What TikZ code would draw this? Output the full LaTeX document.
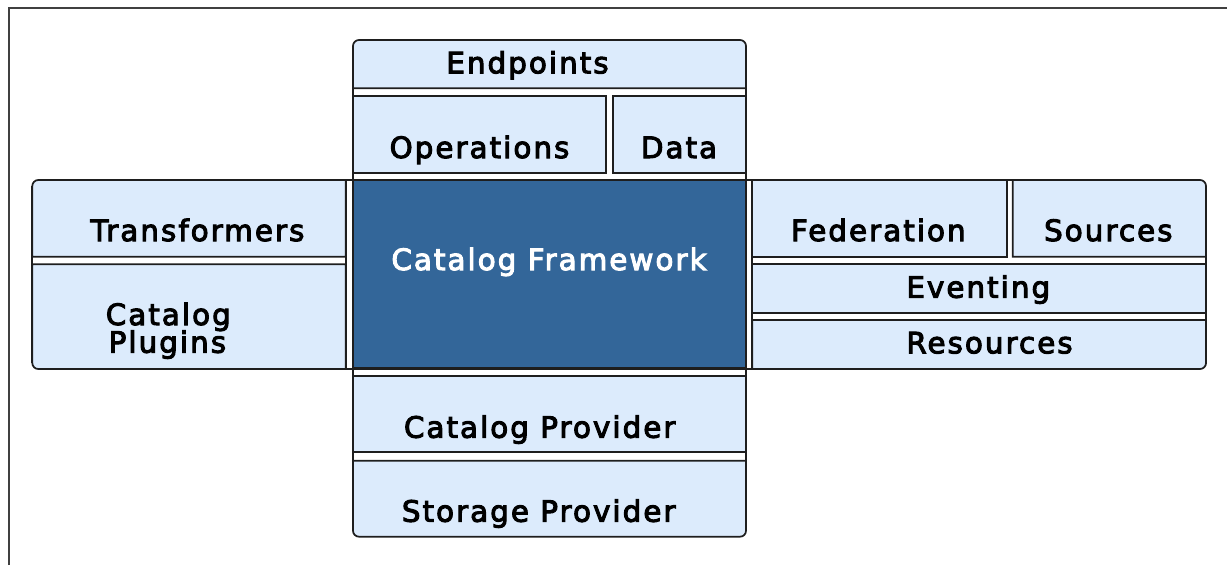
\documentclass[tikz,border=0pt]{standalone}
\usepackage{fontspec}
\setmainfont{DejaVu Sans}
\newfontfamily\labfont[LetterSpace=7,FakeBold=3.5]{DejaVu Sans}
\definecolor{cellfill}{RGB}{220,235,252}
\definecolor{corefill}{RGB}{51,102,153}
\definecolor{edgecol}{RGB}{30,30,30}
\definecolor{framecol}{RGB}{64,64,64}
\begin{document}
\begin{tikzpicture}[x=0.75pt,y=-0.75pt,
  cell/.style={draw=edgecol, fill=cellfill, line width=1.3pt},
  corecell/.style={draw=edgecol, fill=corefill, line width=1.3pt},
  rc/.style={rounded corners=4.5pt},
  sc/.style={sharp corners},
  lbl/.style={font=\labfont\fontsize{22}{26}\selectfont, text=black, anchor=base, inner sep=0pt},
  wlbl/.style={lbl, text=white},
  groupline/.style={draw=edgecol, line width=1.3pt}]
\useasboundingbox (0,0) rectangle (1227,565);
% outer frame (top and left only)
\draw[framecol, line width=1.5pt] (9,565) -- (9,8.3) -- (1227,8.3);

% top group
\draw[cell] (353,88.3) [rc] -- (353,40) -- (746,40) [sc] -- (746,88.3) -- cycle;
\draw[cell] (353,95.7) rectangle (606,172.7);
\draw[cell] (612.7,95.7) rectangle (746,172.7);
% left group
\draw[cell] (345.7,256.7) -- (32.3,256.7) [rc] -- (32.3,180) [sc] -- (345.7,180) -- cycle;
\draw[cell] (345.7,264.3) -- (32.3,264.3) [rc] -- (32.3,369) [sc] -- (345.7,369) -- cycle;
% core
\draw[corecell] (353.3,180) rectangle (745.5,368);
% right group
\draw[cell] (752.3,180) rectangle (1006.7,256.7);
\draw[cell] (1012.7,256.7) -- (1012.7,180) [rc] -- (1206,180) [sc] -- (1206,256.7) -- cycle;
\draw[cell] (752.3,264.3) rectangle (1206,312.7);
\draw[cell] (752.3,320) -- (1206,320) [rc] -- (1206,369) [sc] -- (752.3,369) -- cycle;
% bottom group
\draw[cell] (353,376) rectangle (746,452.3);
\draw[cell] (746,460.7) -- (353,460.7) [rc] -- (353,536.7) -- (746,536.7) [sc] -- cycle;

% continuous group borders across the gaps
\draw[groupline] (353,46) -- (353,531);
\draw[groupline] (746,46) -- (746,531);
\draw[groupline] (38,180) -- (1200,180);
\draw[groupline] (38,369) -- (1200,369);
\draw[groupline] (32.3,186) -- (32.3,363);
\draw[groupline] (1206,186) -- (1206,363);
\draw[groupline] (345.7,180) -- (345.7,369);
\draw[groupline] (752.3,180) -- (752.3,369);

% labels
\node[lbl] (endpoints) at (527.5,73.3) {Endpoints};
\node[lbl] (operations) at (479.5,158) {Operations};
\node[lbl] (data) at (679,158) {Data};
\node[wlbl] (framework) at (549,270) {Catalog Framework};
\node[lbl] (transformers) at (197.5,241) {Transformers};
\node[lbl] (plugA) at (168.3,325) {Catalog};
\node[lbl] (plugB) at (167.4,352.7) {Plugins};
\node[lbl] (federation) at (878.3,241) {Federation};
\node[lbl] (sources) at (1108.3,241) {Sources};
\node[lbl] (eventing) at (978.3,297.7) {Eventing};
\node[lbl] (resources) at (989.5,353.3) {Resources};
\node[lbl] (catprov) at (539.7,437.7) {Catalog Provider};
\node[lbl] (storprov) at (538.7,521.7) {Storage Provider};
\end{tikzpicture}
\end{document}
